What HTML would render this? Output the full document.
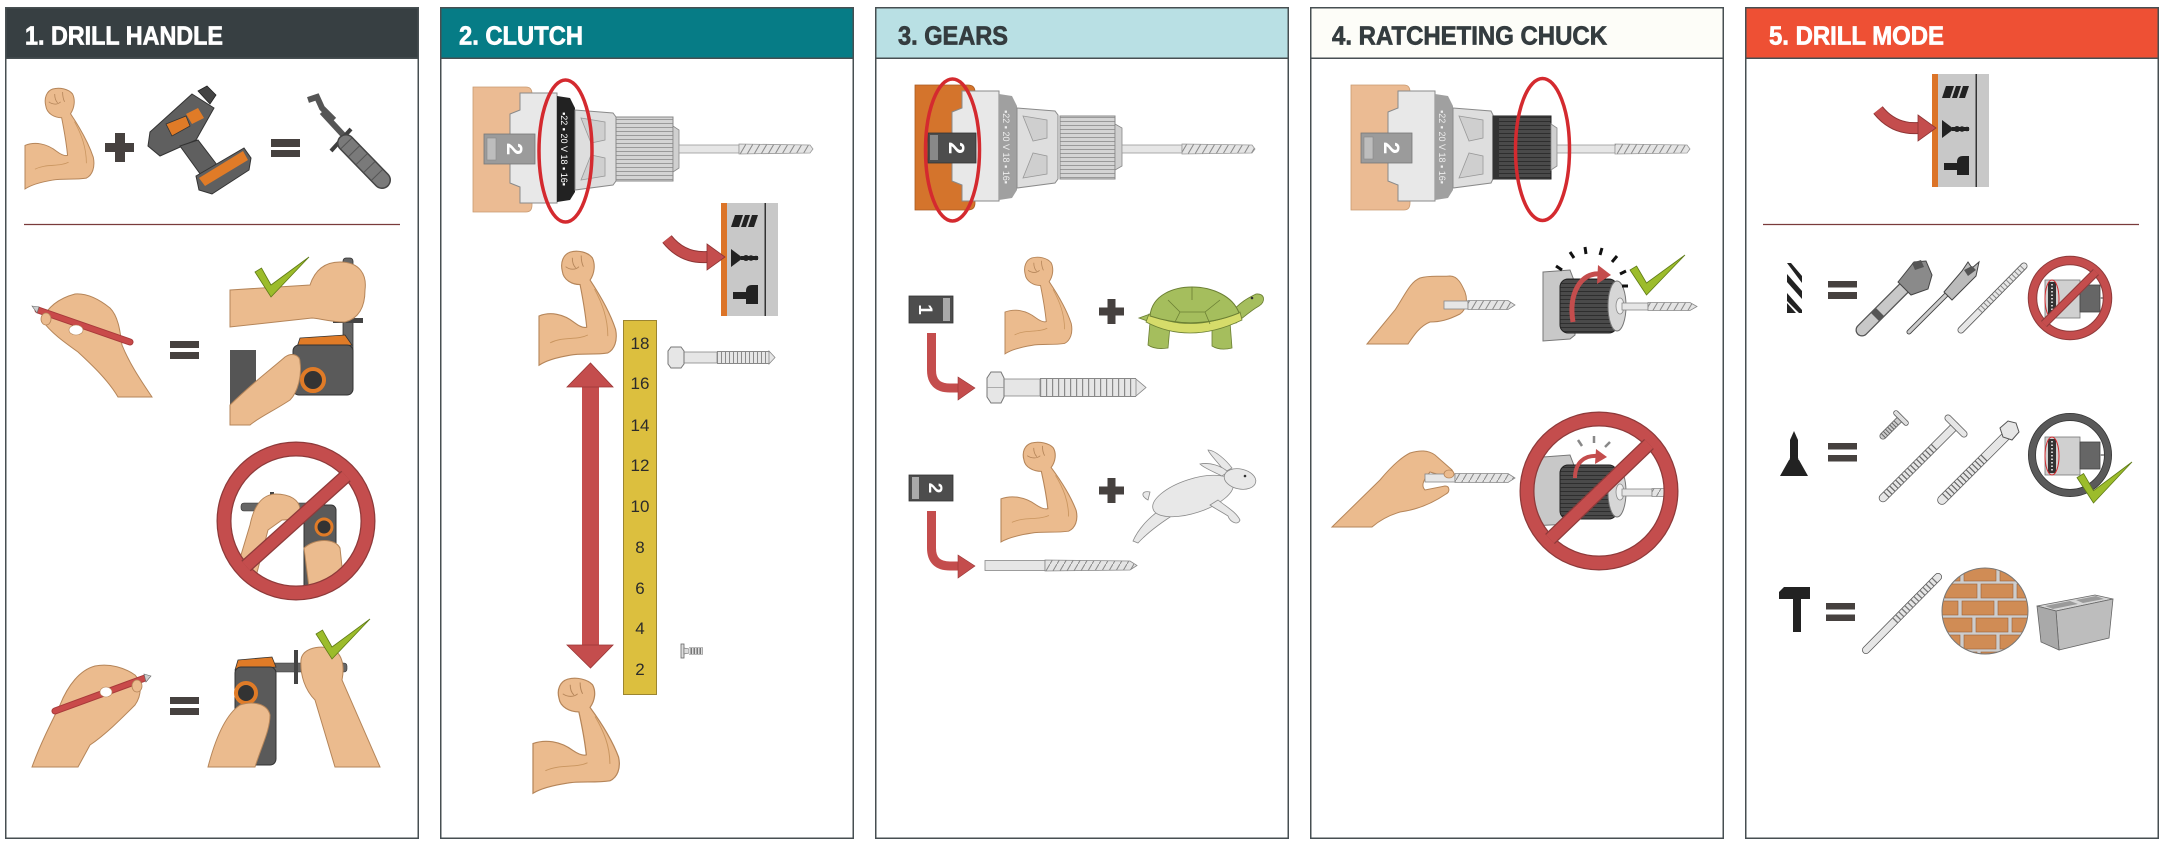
<!DOCTYPE html>
<html><head><meta charset="utf-8"><style>
html,body{margin:0;padding:0;background:#fff;}
svg{display:block;}
</style></head><body>
<svg width="2184" height="848" viewBox="0 0 2184 848" xmlns="http://www.w3.org/2000/svg" font-family="'Liberation Sans', sans-serif">
<defs>
 <path id="arm" d="M0,58 C10,54 22,56 32,64 C36,67 40,69 43,68 C42,58 40,45 37,30 C30,30 22,26 21,18 C19,10 22,3 28,1 C35,-1 44,1 48,6 C51,12 50,20 46,26 C54,38 64,55 69,70 C71,80 68,88 62,91 C50,93 38,91 28,93 C16,95 6,98 0,102 Z" fill="#ebbb8e" stroke="#b58559" stroke-width="1"/>
 <g id="armd">
  <use href="#arm"/>
  <path d="M10,82 C22,76 34,80 44,75" fill="none" stroke="#c9955f" stroke-width="0.8"/>
  <path d="M50,34 C57,47 62,60 62,76" fill="none" stroke="#c9955f" stroke-width="0.8"/>
  <path d="M24,14 C28,17 33,17 36,14 M30,6 C30,10 31,13 33,15 M38,4 C38,9 39,12 40,14" fill="none" stroke="#b58559" stroke-width="0.8"/>
 </g>
 <pattern id="ribs" patternUnits="userSpaceOnUse" width="10" height="4">
  <rect width="10" height="4" fill="#d4d4d4"/><rect y="3" width="10" height="1" fill="#9a9a9a"/>
 </pattern>
 <pattern id="ribsd" patternUnits="userSpaceOnUse" width="10" height="4">
  <rect width="10" height="4" fill="#4a4a4a"/><rect y="3" width="10" height="1" fill="#2e2e2e"/>
 </pattern>
 <pattern id="twist" patternUnits="userSpaceOnUse" width="7" height="12">
  <rect width="7" height="12" fill="#e4e4e4"/><path d="M0,12 L7,0" stroke="#888" stroke-width="1"/>
 </pattern>
 <g id="strip">
  <rect x="0" y="0" width="57" height="113" fill="#c8c8c8"/>
  <rect x="0" y="0" width="6" height="113" fill="#dc7428"/>
  <rect x="43.5" y="0" width="1.5" height="113" fill="#333"/>
  <polygon points="10,24 14,12 22,12 18,24" fill="#222"/>
  <polygon points="20,24 24,12 29,12 25,24" fill="#222"/>
  <polygon points="27,24 31,12 37,12 33,24" fill="#222"/>
  <polygon points="10,46 22,55 10,64" fill="#222"/>
  <rect x="20" y="53" width="17" height="4" fill="#222"/>
  <circle cx="25" cy="55" r="3" fill="#222"/><circle cx="30" cy="55" r="2.8" fill="#222"/><circle cx="35" cy="55" r="2.3" fill="#222"/>
  <rect x="12" y="89" width="25" height="7" fill="#222"/>
  <path d="M25,88 Q25,82 31,82 H37 V101 H25 Z" fill="#222"/>
  <path d="M-54,36 Q-38,56 -13,54" fill="none" stroke="#8e3434" stroke-width="12"/>
  <path d="M-54,36 Q-38,56 -13,54" fill="none" stroke="#c44d4d" stroke-width="10"/>
  <polygon points="-14,41 4,54 -14,67" fill="#c44d4d" stroke="#8e3434" stroke-width="0.8"/>
 </g>
 <clipPath id="c1"><circle cx="296" cy="521" r="66"/></clipPath>
 <clipPath id="c4"><circle cx="1599" cy="491" r="66"/></clipPath>
 <clipPath id="c5a"><circle cx="2070" cy="298" r="34"/></clipPath>
 <clipPath id="c5b"><circle cx="2070" cy="455" r="34"/></clipPath>
 <clipPath id="cb"><circle cx="1985" cy="611" r="43"/></clipPath>
</defs>

<!-- PANELS -->
<rect x="5.75" y="7.75" width="412.5" height="830.5" fill="#fff" stroke="#474f52" stroke-width="1.5"/>
<rect x="5.75" y="7.75" width="412.5" height="50.5" fill="#373f42" stroke="#474f52" stroke-width="1.5"/>
<text x="25" y="44.5" font-size="26" font-weight="bold" fill="#fff" stroke="#fff" stroke-width="0.7" textLength="198" lengthAdjust="spacingAndGlyphs">1. DRILL HANDLE</text>

<rect x="440.75" y="7.75" width="412.5" height="830.5" fill="#fff" stroke="#474f52" stroke-width="1.5"/>
<rect x="440.75" y="7.75" width="412.5" height="50.5" fill="#067c86" stroke="#474f52" stroke-width="1.5"/>
<text x="459" y="44.5" font-size="26" font-weight="bold" fill="#fff" stroke="#fff" stroke-width="0.7" textLength="124" lengthAdjust="spacingAndGlyphs">2. CLUTCH</text>

<rect x="875.75" y="7.75" width="412.5" height="830.5" fill="#fff" stroke="#474f52" stroke-width="1.5"/>
<rect x="875.75" y="7.75" width="412.5" height="50.5" fill="#b9e0e4" stroke="#474f52" stroke-width="1.5"/>
<text x="898" y="44.5" font-size="26" font-weight="bold" fill="#343c3f" stroke="#343c3f" stroke-width="0.7" textLength="110" lengthAdjust="spacingAndGlyphs">3. GEARS</text>

<rect x="1310.75" y="7.75" width="412.5" height="830.5" fill="#fff" stroke="#474f52" stroke-width="1.5"/>
<rect x="1310.75" y="7.75" width="412.5" height="50.5" fill="#fdfdf8" stroke="#474f52" stroke-width="1.5"/>
<text x="1332" y="44.5" font-size="26" font-weight="bold" fill="#343c3f" stroke="#343c3f" stroke-width="0.7" textLength="275" lengthAdjust="spacingAndGlyphs">4. RATCHETING CHUCK</text>

<rect x="1745.75" y="7.75" width="412.5" height="830.5" fill="#fff" stroke="#474f52" stroke-width="1.5"/>
<rect x="1745.75" y="7.75" width="412.5" height="50.5" fill="#ee5034" stroke="#474f52" stroke-width="1.5"/>
<text x="1769" y="44.5" font-size="26" font-weight="bold" fill="#fff" stroke="#fff" stroke-width="0.7" textLength="175" lengthAdjust="spacingAndGlyphs">5. DRILL MODE</text>

<!-- ============ PANEL 1 ============ -->
<use href="#armd" transform="translate(25,88) scale(0.99,0.99)"/>
<rect x="115" y="133" width="10" height="29" fill="#46413f"/>
<rect x="105" y="143" width="29" height="9" fill="#46413f"/>
<!-- drill -->
<polygon points="192,94 214,108 196,140 160,156 148,146 150,132" fill="#5f5f5f" stroke="#333" stroke-width="1"/>
<polygon points="198,91 207,86 216,95 210,104" fill="#444" stroke="#222" stroke-width="0.8"/>
<polygon points="166,124 186,116 190,126 172,136" fill="#e07b27" stroke="#333" stroke-width="0.8"/>
<polygon points="186,114 198,108 204,118 192,124" fill="#e07b27"/>
<polygon points="180,146 198,140 224,174 206,182" fill="#5f5f5f" stroke="#333" stroke-width="1"/>
<polygon points="196,176 244,148 251,158 249,170 212,194 199,190" fill="#5f5f5f" stroke="#333" stroke-width="1"/>
<polygon points="199,178 243,151 248,160 205,186" fill="#e07b27"/>
<rect x="271" y="139" width="29" height="8" fill="#46413f"/>
<rect x="271" y="150" width="29" height="7" fill="#46413f"/>
<!-- side handle -->
<path d="M308,100 L317,97 L322,108 L334,120" fill="none" stroke="#555" stroke-width="6"/>
<line x1="322" y1="112" x2="346" y2="138" stroke="#555" stroke-width="6"/>
<line x1="331" y1="151" x2="351" y2="129" stroke="#3e3e3e" stroke-width="4"/>
<line x1="346" y1="143" x2="382" y2="180" stroke="#444" stroke-width="18" stroke-linecap="round"/>
<line x1="346" y1="143" x2="382" y2="180" stroke="#7a7a7a" stroke-width="15" stroke-linecap="round"/>
<line x1="346" y1="143" x2="382" y2="180" stroke="#555" stroke-width="15" stroke-dasharray="1 10"/>
<!-- divider -->
<line x1="24" y1="224.5" x2="400" y2="224.5" stroke="#7a3b3b" stroke-width="1.2"/>
<!-- hand pencil row2 -->
<path d="M42,320 C48,306 60,298 75,294 C88,293 100,300 110,308 C118,316 120,330 122,345 C130,365 142,382 152,397 L118,397 C108,380 92,365 78,352 C64,342 50,332 42,320 Z" fill="#ebbb8e" stroke="#b58559" stroke-width="1"/>
<line x1="38" y1="310" x2="130" y2="342" stroke="#a83a3a" stroke-width="7" stroke-linecap="round"/>
<line x1="38" y1="310" x2="130" y2="342" stroke="#c94a4a" stroke-width="5" stroke-linecap="round"/>
<polygon points="32,306 39,307 37,313" fill="#ccc" stroke="#666" stroke-width="0.6"/>
<ellipse cx="46" cy="319" rx="5" ry="6" fill="#ebbb8e" stroke="#b58559" stroke-width="0.8"/>
<ellipse cx="76" cy="330" rx="7" ry="5" fill="#fff" stroke="#b58559" stroke-width="0.6"/>
<rect x="170" y="341" width="29" height="7" fill="#46413f"/>
<rect x="170" y="352" width="29" height="7" fill="#46413f"/>
<!-- right image row2 -->
<rect x="230" y="350" width="26" height="60" fill="#555"/>
<rect x="343" y="258" width="10" height="115" rx="3" fill="#666" stroke="#333" stroke-width="0.8"/>
<rect x="333" y="318" width="30" height="5" fill="#444"/>
<path d="M230,290 L310,285 C315,270 325,262 340,262 C360,262 367,275 365,290 C365,305 360,318 345,322 C330,322 318,318 312,318 L230,327 Z" fill="#ebbb8e" stroke="#b58559" stroke-width="1"/>
<polygon points="300,338 345,335 352,345 296,350" fill="#e07b27" stroke="#333" stroke-width="0.8"/>
<rect x="293" y="345" width="60" height="50" rx="6" fill="#5a5a5a" stroke="#333" stroke-width="1"/>
<circle cx="313" cy="380" r="11" fill="#333" stroke="#e07b27" stroke-width="4"/>
<path d="M230,425 L230,405 C250,385 270,370 285,357 C292,352 300,355 300,362 C302,375 298,392 290,400 C275,410 258,418 250,425 Z" fill="#ebbb8e" stroke="#b58559" stroke-width="1"/>
<polygon points="255,272 271,297 309,257 271,285 261.5,268" fill="#9cbc2b" stroke="#5e7a16" stroke-width="0.8"/>
<!-- no-sign panel1 -->
<g clip-path="url(#c1)">
 <rect x="304" y="505" width="32" height="90" rx="5" fill="#5a5a5a" stroke="#333" stroke-width="1"/>
 <circle cx="324" cy="527" r="8" fill="#333" stroke="#e07b27" stroke-width="3"/>
 <rect x="241" y="503" width="69" height="8" rx="3" fill="#666" stroke="#333" stroke-width="0.6"/>
 <rect x="270" y="492" width="4" height="30" fill="#444"/>
 <path d="M232,585 L250,525 C254,505 262,495 275,494 C290,494 300,500 300,510 C300,518 290,520 282,520 L268,530 L252,592 Z" fill="#ebbb8e" stroke="#b58559" stroke-width="1"/>
 <path d="M304,548 C315,538 335,538 340,548 L345,595 L310,595 Z" fill="#ebbb8e" stroke="#b58559" stroke-width="1"/>
</g>
<circle cx="296" cy="521" r="72" fill="none" stroke="#8e3a3a" stroke-width="15"/>
<circle cx="296" cy="521" r="72" fill="none" stroke="#c44d4d" stroke-width="12.5"/>
<line x1="346" y1="476" x2="246" y2="566" stroke="#8e3a3a" stroke-width="14"/>
<line x1="346" y1="476" x2="246" y2="566" stroke="#c44d4d" stroke-width="11.5"/>
<!-- row3 -->
<path d="M32,767 C40,745 50,725 60,705 C68,685 80,670 95,666 C110,663 125,668 135,675 C142,682 142,695 135,705 C120,720 105,735 90,745 L78,767 Z" fill="#ebbb8e" stroke="#b58559" stroke-width="1"/>
<line x1="55" y1="711" x2="145" y2="678" stroke="#a83a3a" stroke-width="7" stroke-linecap="round"/>
<line x1="55" y1="711" x2="145" y2="678" stroke="#c94a4a" stroke-width="5" stroke-linecap="round"/>
<polygon points="144,674 151,676 146,682" fill="#ccc" stroke="#666" stroke-width="0.6"/>
<ellipse cx="137" cy="686" rx="5" ry="6" fill="#ebbb8e" stroke="#b58559" stroke-width="0.8"/>
<ellipse cx="106" cy="692" rx="6" ry="5" fill="#fff" stroke="#b58559" stroke-width="0.6"/>
<rect x="170" y="697" width="29" height="7" fill="#46413f"/>
<rect x="170" y="708" width="29" height="7" fill="#46413f"/>
<rect x="270" y="663" width="77" height="9" rx="3" fill="#666" stroke="#333" stroke-width="0.6"/>
<rect x="294" y="650" width="4" height="34" fill="#444"/>
<polygon points="238,660 272,657 276,667 235,670" fill="#e07b27" stroke="#333" stroke-width="0.8"/>
<rect x="235" y="667" width="41" height="98" rx="6" fill="#5a5a5a" stroke="#333" stroke-width="1"/>
<circle cx="246" cy="693" r="10" fill="#333" stroke="#e07b27" stroke-width="4"/>
<path d="M301,660 C302,650 315,645 330,648 C342,652 345,665 342,680 L380,767 L335,767 L315,700 C305,690 300,675 301,660 Z" fill="#ebbb8e" stroke="#b58559" stroke-width="1"/>
<path d="M208,767 C215,740 225,715 240,705 C255,700 268,705 270,715 C270,730 262,745 255,767 Z" fill="#ebbb8e" stroke="#b58559" stroke-width="1"/>
<polygon points="316,634 332,659 370,619 332,647 322.5,630" fill="#9cbc2b" stroke="#5e7a16" stroke-width="0.8"/>

<!-- ============ PANEL 2 ============ -->
<g transform="translate(473,0)">
 <path d="M0,87 H53 Q59,87 59,94 V205 Q59,212 53,212 H0 Z" fill="#ebbb93" stroke="#c99a70" stroke-width="0.8"/>
 <path d="M47,93 H84 V203 H47 V187 L37,183 V114 L47,110 Z" fill="#e8e8e8" stroke="#8a8a8a" stroke-width="1"/>
 <rect x="11" y="134" width="51" height="30" fill="#9b9b9b" stroke="#777" stroke-width="0.8"/>
 <rect x="14" y="138" width="9" height="22" fill="#bdbdbd" stroke="#888" stroke-width="0.6"/>
 <text transform="translate(42,149) rotate(90)" font-size="22" font-weight="bold" fill="#fff" text-anchor="middle" y="8">2</text>
 <path d="M84,96 L97,98 L102,108 V192 L97,200 L84,202 Z" fill="#222"/>
 <text transform="translate(91,149) rotate(90)" font-size="9" fill="#fff" text-anchor="middle" y="3">▪22 ▪ 20 V 18 ▪ 16▪</text>
 <path d="M102,110 L140,113 L143,117 V181 L140,185 L102,190 Z" fill="#dedede" stroke="#8a8a8a" stroke-width="1"/>
 <path d="M108,118 L132,122 L132,140 L118,143 Z M108,180 L132,176 L132,158 L118,155 Z" fill="#cfcfcf" stroke="#999" stroke-width="0.8"/>
 <rect x="143" y="117" width="57" height="64" fill="url(#ribs)" stroke="#888" stroke-width="1"/>
 <path d="M200,126 L206,130 V168 L200,172 Z" fill="#d0d0d0" stroke="#888" stroke-width="0.8"/>
 <rect x="206" y="145" width="60" height="8" fill="#e6e6e6" stroke="#999" stroke-width="0.8"/>
 <path d="M266,144 L337,145 L340,149 L337,153 L266,154 Z" fill="url(#twist)" stroke="#999" stroke-width="0.8"/>
</g>
<ellipse cx="565.5" cy="151" rx="26.5" ry="71" fill="none" stroke="#d42a2f" stroke-width="3.5"/>
<use href="#strip" transform="translate(721,203)"/>
<use href="#armd" transform="translate(539,251) scale(1.11,1.12)"/>
<rect x="623.5" y="320.5" width="33" height="374" fill="#dcbf3e" stroke="#9c8530" stroke-width="1"/>
<g font-size="17" fill="#2b2b2b" text-anchor="middle">
 <text x="640" y="349">18</text><text x="640" y="389">16</text><text x="640" y="431">14</text>
 <text x="640" y="471">12</text><text x="640" y="512">10</text><text x="640" y="553">8</text>
 <text x="640" y="594">6</text><text x="640" y="634">4</text><text x="640" y="675">2</text>
</g>
<rect x="582" y="386" width="17" height="260" fill="#c44d4d"/>
<polygon points="567,387 590.5,363 613,387" fill="#c44d4d" stroke="#9a3535" stroke-width="0.8"/>
<polygon points="567,645 590.5,668 613,645" fill="#c44d4d" stroke="#9a3535" stroke-width="0.8"/>
<!-- bolt p2 -->
<rect x="683" y="352" width="34" height="11" fill="#e6e6e6" stroke="#888" stroke-width="0.8"/>
<line x1="717" y1="357.5" x2="769" y2="357.5" stroke="#888" stroke-width="13"/>
<line x1="717" y1="357.5" x2="769" y2="357.5" stroke="#e6e6e6" stroke-width="11"/>
<line x1="717" y1="357.5" x2="769" y2="357.5" stroke="#8a8a8a" stroke-width="12" stroke-dasharray="1 3"/>
<polygon points="769,351 775,357.5 769,364" fill="#e6e6e6" stroke="#888" stroke-width="0.8"/>
<polygon points="671,347 681,347 684,351 684,364 681,368 671,368 668,364 668,351" fill="#e6e6e6" stroke="#777" stroke-width="1"/>
<!-- small screw -->
<rect x="681" y="644" width="3" height="14" fill="#ddd" stroke="#666" stroke-width="0.8"/>
<polygon points="684,648 684,654 689,653 689,649" fill="#ddd" stroke="#666" stroke-width="0.6"/>
<line x1="689" y1="651" x2="703" y2="651" stroke="#777" stroke-width="7"/>
<line x1="689" y1="651" x2="703" y2="651" stroke="#ddd" stroke-width="6" stroke-dasharray="1.5 1.5"/>
<use href="#armd" transform="translate(533,678) scale(1.24,1.13)"/>

<!-- ============ PANEL 3 ============ -->
<g transform="translate(915,-2)">
 <path d="M0,87 H53 Q60,87 60,94 V205 Q60,212 53,212 H0 Z" fill="#d4742c" stroke="#a85a20" stroke-width="0.8"/>
 <path d="M47,93 H84 V203 H47 V187 L37,183 V114 L47,110 Z" fill="#e8e8e8" stroke="#8a8a8a" stroke-width="1"/>
 <rect x="13" y="135" width="48" height="30" fill="#4d4d4d" stroke="#333" stroke-width="0.8"/>
 <rect x="15" y="137" width="8" height="25" fill="#888"/>
 <text transform="translate(42,150) rotate(90)" font-size="22" font-weight="bold" fill="#fff" text-anchor="middle" y="8">2</text>
 <path d="M84,96 L97,98 L102,108 V192 L97,200 L84,202 Z" fill="#a0a0a0"/>
 <text transform="translate(91,149) rotate(90)" font-size="9" fill="#eee" text-anchor="middle" y="3">▪22 ▪ 20 V 18 ▪ 16▪</text>
 <path d="M102,110 L140,113 L143,117 V181 L140,185 L102,190 Z" fill="#dedede" stroke="#8a8a8a" stroke-width="1"/>
 <path d="M108,118 L132,122 L132,140 L118,143 Z M108,180 L132,176 L132,158 L118,155 Z" fill="#cfcfcf" stroke="#999" stroke-width="0.8"/>
 <rect x="145" y="118" width="55" height="63" fill="url(#ribs)" stroke="#888" stroke-width="1"/>
 <path d="M200,126 L207,130 V168 L200,172 Z" fill="#d0d0d0" stroke="#888" stroke-width="0.8"/>
 <rect x="207" y="147" width="60" height="8" fill="#e6e6e6" stroke="#999" stroke-width="0.8"/>
 <path d="M267,146 L337,147 L340,151 L337,155 L267,156 Z" fill="url(#twist)" stroke="#999" stroke-width="0.8"/>
</g>
<ellipse cx="952.5" cy="150" rx="27" ry="71" fill="none" stroke="#d42a2f" stroke-width="3.5"/>
<!-- gear 1 -->
<rect x="909" y="296" width="44" height="27" fill="#4d4d4d" stroke="#333" stroke-width="0.8"/>
<rect x="943" y="298" width="7" height="23" fill="#aaa"/>
<text transform="translate(926,309.5) rotate(90)" font-size="19" font-weight="bold" fill="#fff" text-anchor="middle" y="7">1</text>
<path d="M931.5,333 V370 Q931.5,388 950,388 H959" fill="none" stroke="#c44d4d" stroke-width="9"/>
<polygon points="958,377 975,388 958,400" fill="#c44d4d" stroke="#9a3535" stroke-width="0.6"/>
<use href="#armd" transform="translate(1005,257) scale(0.96,0.95)"/>
<rect x="1107.5" y="299" width="8" height="25" fill="#46413f"/>
<rect x="1099" y="307.5" width="25" height="8" fill="#46413f"/>
<!-- turtle -->
<polygon points="1139,318 1153,313 1153,323" fill="#a5be5d" stroke="#6b7f33" stroke-width="0.8"/>
<path d="M1150,322 L1148,345 Q1155,350 1168,348 L1170,326 Z" fill="#a5be5d" stroke="#6b7f33" stroke-width="0.8"/>
<path d="M1212,324 L1212,346 Q1220,351 1232,348 L1230,322 Z" fill="#a5be5d" stroke="#6b7f33" stroke-width="0.8"/>
<path d="M1230,314 C1240,302 1248,298 1256,294 C1265,293 1266,302 1259,306 C1250,311 1243,318 1236,323 Z" fill="#a5be5d" stroke="#6b7f33" stroke-width="0.8"/>
<path d="M1146,322 Q1190,345 1242,320 L1240,312 Q1190,334 1149,314 Z" fill="#d6dc6a" stroke="#6b7f33" stroke-width="0.8"/>
<path d="M1150,316 C1152,294 1175,287 1192,287 C1212,287 1233,296 1239,313 Q1195,331 1150,316 Z" fill="#a5be5d" stroke="#6b7f33" stroke-width="1"/>
<path d="M1168,300 L1180,312 L1205,312 L1220,300 M1180,312 L1175,322 M1205,312 L1210,324 M1192,287 L1192,300" fill="none" stroke="#6b7f33" stroke-width="0.8"/>
<circle cx="1252" cy="298" r="1.3" fill="#333"/>
<!-- bolt p3 -->
<rect x="1003" y="379" width="37" height="17" fill="#e6e6e6" stroke="#888" stroke-width="0.8"/>
<line x1="1040" y1="387.5" x2="1136" y2="387.5" stroke="#888" stroke-width="19"/>
<line x1="1040" y1="387.5" x2="1136" y2="387.5" stroke="#e6e6e6" stroke-width="17"/>
<line x1="1040" y1="387.5" x2="1136" y2="387.5" stroke="#8a8a8a" stroke-width="18" stroke-dasharray="1.2 4.8"/>
<polygon points="1136,379 1146,387.5 1136,396" fill="#e6e6e6" stroke="#888" stroke-width="0.8"/>
<polygon points="991,372 1001,372 1004,378 1004,397 1001,403 991,403 987,397 987,378" fill="#e6e6e6" stroke="#777" stroke-width="1"/>
<line x1="987" y1="387.5" x2="1004" y2="387.5" stroke="#999" stroke-width="0.8"/>
<!-- gear 2 -->
<rect x="909" y="475" width="44" height="26" fill="#4d4d4d" stroke="#333" stroke-width="0.8"/>
<rect x="912" y="477" width="7" height="22" fill="#aaa"/>
<text transform="translate(936,488) rotate(90)" font-size="19" font-weight="bold" fill="#fff" text-anchor="middle" y="7">2</text>
<path d="M931.5,511 V548 Q931.5,566 950,566 H959" fill="none" stroke="#c44d4d" stroke-width="9"/>
<polygon points="958,555 975,566 958,578" fill="#c44d4d" stroke="#9a3535" stroke-width="0.6"/>
<use href="#armd" transform="translate(1001,442) scale(1.09,0.98)"/>
<rect x="1107.5" y="478" width="8" height="25" fill="#46413f"/>
<rect x="1099" y="486.5" width="25" height="8" fill="#46413f"/>
<!-- rabbit -->
<path d="M1133,541 C1140,525 1155,512 1168,505 L1178,512 C1165,520 1150,530 1138,543 Z" fill="#e8e8e8" stroke="#8a8a8a" stroke-width="0.8"/>
<path d="M1148,500 C1140,496 1142,490 1150,492 Z" fill="#e8e8e8" stroke="#8a8a8a" stroke-width="0.8"/>
<ellipse cx="1193" cy="496" rx="42" ry="17" transform="rotate(-18 1193 496)" fill="#e8e8e8" stroke="#8a8a8a" stroke-width="0.8"/>
<path d="M1218,500 C1228,508 1236,512 1240,520 C1238,526 1230,522 1228,516 C1222,512 1214,508 1210,505 Z" fill="#e8e8e8" stroke="#8a8a8a" stroke-width="0.8"/>
<path d="M1225,472 C1218,462 1210,455 1208,450 C1215,450 1226,460 1232,468 Z" fill="#e8e8e8" stroke="#8a8a8a" stroke-width="0.8"/>
<path d="M1222,476 C1214,472 1204,468 1200,464 C1210,462 1222,466 1228,472 Z" fill="#e8e8e8" stroke="#8a8a8a" stroke-width="0.8"/>
<ellipse cx="1240" cy="479" rx="16" ry="10" transform="rotate(12 1240 479)" fill="#e8e8e8" stroke="#8a8a8a" stroke-width="0.8"/>
<circle cx="1245" cy="476" r="1.3" fill="#333"/>
<!-- drill bit p3 -->
<rect x="985" y="560.5" width="60" height="10" fill="#e6e6e6" stroke="#888" stroke-width="0.8"/>
<path d="M1045,560 L1130,561 L1137,565.5 L1130,570 L1045,571 Z" fill="url(#twist)" stroke="#888" stroke-width="0.8"/>

<!-- ============ PANEL 4 ============ -->
<g transform="translate(1351,-2)">
 <path d="M0,87 H53 Q59,87 59,94 V205 Q59,212 53,212 H0 Z" fill="#ebbb93" stroke="#c99a70" stroke-width="0.8"/>
 <path d="M47,93 H84 V203 H47 V187 L37,183 V114 L47,110 Z" fill="#e8e8e8" stroke="#8a8a8a" stroke-width="1"/>
 <rect x="10" y="135" width="51" height="30" fill="#9b9b9b" stroke="#777" stroke-width="0.8"/>
 <rect x="13" y="139" width="9" height="22" fill="#bdbdbd" stroke="#888" stroke-width="0.6"/>
 <text transform="translate(41,150) rotate(90)" font-size="22" font-weight="bold" fill="#fff" text-anchor="middle" y="8">2</text>
 <path d="M84,96 L97,98 L102,108 V192 L97,200 L84,202 Z" fill="#a0a0a0"/>
 <text transform="translate(91,149) rotate(90)" font-size="9" fill="#eee" text-anchor="middle" y="3">▪22 ▪ 20 V 18 ▪ 16▪</text>
 <path d="M102,110 L140,113 L142,117 V181 L140,185 L102,190 Z" fill="#dedede" stroke="#8a8a8a" stroke-width="1"/>
 <path d="M108,118 L132,122 L132,140 L118,143 Z M108,180 L132,176 L132,158 L118,155 Z" fill="#cfcfcf" stroke="#999" stroke-width="0.8"/>
 <rect x="142" y="118" width="58" height="63" fill="url(#ribsd)" stroke="#222" stroke-width="1"/>
 <rect x="142" y="118" width="6" height="63" fill="#333"/>
 <path d="M200,126 L206,130 V168 L200,172 Z" fill="#d0d0d0" stroke="#888" stroke-width="0.8"/>
 <rect x="206" y="147" width="58" height="8" fill="#e6e6e6" stroke="#999" stroke-width="0.8"/>
 <path d="M264,146 L336,147 L339,151 L336,155 L264,156 Z" fill="url(#twist)" stroke="#999" stroke-width="0.8"/>
</g>
<ellipse cx="1542.5" cy="149.5" rx="27" ry="71" fill="none" stroke="#d42a2f" stroke-width="3.5"/>
<!-- top hand -->
<path d="M1367,344 L1395,310 C1405,295 1410,282 1420,278 C1430,275 1440,277 1450,276 C1458,276 1462,285 1465,292 C1468,300 1466,310 1460,314 C1448,320 1440,322 1430,322 C1420,326 1414,335 1408,344 Z" fill="#ebbb8e" stroke="#b58559" stroke-width="1"/>
<rect x="1444" y="301" width="24" height="8" fill="#e6e6e6" stroke="#888" stroke-width="0.8"/>
<path d="M1468,300.5 L1508,300.5 L1515,305 L1508,309.5 L1468,309.5 Z" fill="url(#twist)" stroke="#888" stroke-width="0.8"/>
<!-- chuck with check -->
<path d="M1543,272 L1570,270 L1575,283 V335 L1570,339 L1543,341 Z" fill="#c8c8c8" stroke="#777" stroke-width="1"/>
<rect x="1560" y="279" width="57" height="54" rx="8" fill="url(#ribsd)" stroke="#222" stroke-width="1"/>
<ellipse cx="1617" cy="306" rx="9" ry="25" fill="#d6d6d6" stroke="#777" stroke-width="1"/>
<ellipse cx="1620" cy="306" rx="4" ry="8" fill="#eee" stroke="#888" stroke-width="0.8"/>
<rect x="1622" y="303" width="26" height="7" fill="#e6e6e6" stroke="#888" stroke-width="0.8"/>
<path d="M1648,302.5 L1690,302.5 L1697,306.5 L1690,310.5 L1648,310.5 Z" fill="url(#twist)" stroke="#888" stroke-width="0.8"/>
<path d="M1573,322 C1568,292 1582,272 1600,274" fill="none" stroke="#c44d4d" stroke-width="5"/>
<polygon points="1598,265 1611,275 1597,284" fill="#c44d4d"/>
<g stroke="#111" stroke-width="3">
 <line x1="1562" y1="270" x2="1556" y2="266"/><line x1="1574" y1="258" x2="1570" y2="252"/>
 <line x1="1586" y1="254" x2="1585" y2="247"/><line x1="1600" y1="255" x2="1602" y2="248"/>
 <line x1="1612" y1="262" x2="1617" y2="256"/><line x1="1620" y1="274" x2="1626" y2="271"/>
 <line x1="1622" y1="286" x2="1628" y2="286"/>
</g>
<polygon points="1630,270 1646.5,295 1685,255 1646.5,283 1636.6,266" fill="#9cbc2b" stroke="#5e7a16" stroke-width="0.8"/>
<!-- bottom hand -->
<path d="M1332,527 L1380,480 C1390,468 1400,458 1410,453 C1420,450 1428,450 1435,455 L1452,470 C1455,474 1452,478 1446,477 L1430,472 C1425,478 1420,485 1425,490 L1445,486 C1450,486 1450,492 1446,494 C1430,505 1415,510 1400,512 C1390,515 1380,520 1372,527 Z" fill="#ebbb8e" stroke="#b58559" stroke-width="1"/>
<rect x="1425" y="474" width="30" height="8" fill="#e6e6e6" stroke="#888" stroke-width="0.8"/>
<path d="M1455,473.5 L1508,473.5 L1515,478 L1508,482.5 L1455,482.5 Z" fill="url(#twist)" stroke="#888" stroke-width="0.8"/>
<ellipse cx="1449" cy="474" rx="5" ry="4" fill="#ebbb8e" stroke="#b58559" stroke-width="0.8"/>
<!-- no-sign p4 -->
<g clip-path="url(#c4)">
 <path d="M1530,458 L1570,455 L1575,468 V520 L1570,524 L1530,526 Z" fill="#c8c8c8" stroke="#777" stroke-width="1"/>
 <rect x="1560" y="465" width="57" height="54" rx="8" fill="url(#ribsd)" stroke="#222" stroke-width="1"/>
 <ellipse cx="1617" cy="492" rx="9" ry="25" fill="#d6d6d6" stroke="#777" stroke-width="1"/>
 <ellipse cx="1620" cy="492" rx="4" ry="8" fill="#eee" stroke="#888" stroke-width="0.8"/>
 <rect x="1622" y="489" width="30" height="7" fill="#e6e6e6" stroke="#888" stroke-width="0.8"/>
 <path d="M1652,488.5 L1690,488.5 L1697,492.5 L1690,496.5 L1652,496.5 Z" fill="url(#twist)" stroke="#888" stroke-width="0.8"/>
 <path d="M1575,478 C1575,462 1585,455 1598,456" fill="none" stroke="#c44d4d" stroke-width="4"/>
 <polygon points="1596,449 1607,457 1595,464" fill="#c44d4d"/>
 <g stroke="#888" stroke-width="2.5"><line x1="1582" y1="446" x2="1578" y2="440"/><line x1="1594" y1="443" x2="1594" y2="436"/><line x1="1605" y1="447" x2="1610" y2="442"/></g>
</g>
<circle cx="1599" cy="491" r="72" fill="none" stroke="#8e3a3a" stroke-width="15"/>
<circle cx="1599" cy="491" r="72" fill="none" stroke="#c44d4d" stroke-width="12.5"/>
<line x1="1649" y1="444" x2="1550" y2="539" stroke="#8e3a3a" stroke-width="14"/>
<line x1="1649" y1="444" x2="1550" y2="539" stroke="#c44d4d" stroke-width="11.5"/>

<!-- ============ PANEL 5 ============ -->
<use href="#strip" transform="translate(1932,74)"/>
<line x1="1763" y1="224.5" x2="2139" y2="224.5" stroke="#7a3b3b" stroke-width="1.2"/>
<!-- row1 icon: drill stripes -->
<g fill="#222">
 <polygon points="1787,263 1791,263 1802,276 1802,283"/>
 <polygon points="1787,274 1787,282 1802,299 1802,291"/>
 <polygon points="1787,293 1787,301 1799,313 1802,313 1802,310"/>
 <polygon points="1787,303 1787,313 1796,313"/>
</g>
<rect x="1828" y="281" width="29" height="6.5" fill="#46413f"/>
<rect x="1828" y="292" width="29" height="7" fill="#46413f"/>
<!-- forstner -->
<line x1="1862" y1="330" x2="1907" y2="285" stroke="#555" stroke-width="13" stroke-linecap="round"/>
<line x1="1862" y1="330" x2="1907" y2="285" stroke="#c8c8c8" stroke-width="10.5" stroke-linecap="round"/>
<line x1="1875" y1="317" x2="1880" y2="312" stroke="#555" stroke-width="12"/>
<polygon points="1898,282 1914,262 1926,261 1932,275 1928,289 1911,295" fill="#8a8a8a" stroke="#444" stroke-width="1"/>
<polygon points="1912,263 1921,260 1924,267 1915,270" fill="#555"/>
<!-- spade -->
<line x1="1909" y1="332" x2="1950" y2="291" stroke="#444" stroke-width="5" stroke-linecap="round"/>
<line x1="1909" y1="332" x2="1950" y2="291" stroke="#ccc" stroke-width="3.2" stroke-linecap="round"/>
<polygon points="1944,292 1962,271 1968,262 1972,268 1979,262 1976,276 1960,292 1952,300" fill="#bbb" stroke="#444" stroke-width="1"/>
<polygon points="1964,270 1972,266 1976,270 1968,276" fill="#555"/>
<!-- twist -->
<line x1="1961" y1="330" x2="2024" y2="266" stroke="#555" stroke-width="7" stroke-linecap="round"/>
<line x1="1961" y1="330" x2="2024" y2="266" stroke="#e6e6e6" stroke-width="5.5" stroke-linecap="round"/>
<line x1="1980" y1="311" x2="2024" y2="266" stroke="#888" stroke-width="5.5" stroke-dasharray="1 3"/>
<!-- no-sign small -->
<g clip-path="url(#c5a)">
 <rect x="2045" y="280" width="35" height="38" fill="#d0d0d0" stroke="#777" stroke-width="0.8"/>
 <rect x="2048" y="282" width="8" height="34" fill="#333"/>
 <line x1="2052" y1="284" x2="2052" y2="314" stroke="#fff" stroke-width="1.5" stroke-dasharray="1.5 2"/>
 <ellipse cx="2052" cy="299" rx="7" ry="19" fill="none" stroke="#d42a2f" stroke-width="1"/>
 <rect x="2080" y="285" width="20" height="27" fill="#666" stroke="#444" stroke-width="0.8"/>
 <line x1="2100" y1="298" x2="2112" y2="298" stroke="#999" stroke-width="2"/>
</g>
<circle cx="2070" cy="298" r="37.5" fill="none" stroke="#8e3a3a" stroke-width="9.5"/>
<circle cx="2070" cy="298" r="37.5" fill="none" stroke="#c44d4d" stroke-width="7.5"/>
<line x1="2096" y1="272" x2="2044" y2="324" stroke="#8e3a3a" stroke-width="8.5"/>
<line x1="2096" y1="272" x2="2044" y2="324" stroke="#c44d4d" stroke-width="6.5"/>
<!-- row2 icon: screw -->
<polygon points="1780,476 1808,476 1799,460 1789,460" fill="#222"/>
<polygon points="1790,465 1798,465 1798,440 1794,431 1790,440" fill="#222"/>
<circle cx="1794" cy="444" r="3.5" fill="#222"/><circle cx="1794" cy="452" r="4" fill="#222"/><circle cx="1794" cy="460" r="4.5" fill="#222"/>
<rect x="1828" y="443" width="29" height="6.5" fill="#46413f"/>
<rect x="1828" y="455" width="29" height="6.5" fill="#46413f"/>
<!-- small screw -->
<line x1="1883" y1="436" x2="1899" y2="420" stroke="#555" stroke-width="7" stroke-linecap="round"/>
<line x1="1883" y1="436" x2="1899" y2="420" stroke="#ccc" stroke-width="5.5" stroke-linecap="round"/>
<line x1="1883" y1="436" x2="1897" y2="422" stroke="#666" stroke-width="6" stroke-dasharray="1 2"/>
<line x1="1896" y1="413" x2="1906" y2="423" stroke="#555" stroke-width="5.5" stroke-linecap="round"/>
<line x1="1896" y1="413" x2="1906" y2="423" stroke="#ddd" stroke-width="4" stroke-linecap="round"/>
<!-- long screw -->
<line x1="1883" y1="498" x2="1955" y2="426" stroke="#555" stroke-width="8.5" stroke-linecap="round"/>
<line x1="1883" y1="498" x2="1955" y2="426" stroke="#e6e6e6" stroke-width="7" stroke-linecap="round"/>
<line x1="1886" y1="495" x2="1936" y2="445" stroke="#666" stroke-width="8" stroke-dasharray="1.2 3"/>
<line x1="1948" y1="418" x2="1964" y2="434" stroke="#555" stroke-width="7" stroke-linecap="round"/>
<line x1="1948" y1="418" x2="1964" y2="434" stroke="#e6e6e6" stroke-width="5.5" stroke-linecap="round"/>
<!-- hex bolt -->
<line x1="1942" y1="500" x2="2006" y2="436" stroke="#555" stroke-width="9.5" stroke-linecap="round"/>
<line x1="1942" y1="500" x2="2006" y2="436" stroke="#e6e6e6" stroke-width="8" stroke-linecap="round"/>
<line x1="1945" y1="497" x2="1985" y2="457" stroke="#666" stroke-width="9" stroke-dasharray="1.2 3"/>
<polygon points="2000,428 2008,421 2016,423 2019,432 2012,440 2003,437" fill="#e6e6e6" stroke="#555" stroke-width="1"/>
<!-- ok circle -->
<g clip-path="url(#c5b)">
 <rect x="2045" y="437" width="35" height="38" fill="#d0d0d0" stroke="#777" stroke-width="0.8"/>
 <rect x="2048" y="439" width="8" height="34" fill="#333"/>
 <line x1="2052" y1="441" x2="2052" y2="471" stroke="#fff" stroke-width="1.5" stroke-dasharray="1.5 2"/>
 <ellipse cx="2052" cy="456" rx="7" ry="19" fill="none" stroke="#d42a2f" stroke-width="1"/>
 <rect x="2080" y="442" width="20" height="27" fill="#666" stroke="#444" stroke-width="0.8"/>
 <line x1="2100" y1="455" x2="2112" y2="455" stroke="#999" stroke-width="2"/>
</g>
<circle cx="2070" cy="455" r="38" fill="none" stroke="#333" stroke-width="8"/>
<circle cx="2070" cy="455" r="38" fill="none" stroke="#5a5a5a" stroke-width="6.5"/>
<polygon points="2077,477.6 2093.5,503 2132,462 2093.5,490.7 2083.6,473.5" fill="#9cbc2b" stroke="#5e7a16" stroke-width="0.8"/>
<!-- row3 icon: hammer -->
<path d="M1779,592 L1784,587 H1810 V599 H1779 Z" fill="#222"/>
<rect x="1793" y="599" width="8" height="33" fill="#222"/>
<rect x="1826" y="603" width="29" height="6.5" fill="#46413f"/>
<rect x="1826" y="614.5" width="29" height="6.5" fill="#46413f"/>
<!-- masonry bit -->
<line x1="1866" y1="650" x2="1938" y2="577" stroke="#555" stroke-width="8" stroke-linecap="round"/>
<line x1="1866" y1="650" x2="1938" y2="577" stroke="#e6e6e6" stroke-width="6.5" stroke-linecap="round"/>
<line x1="1895" y1="621" x2="1936" y2="579" stroke="#777" stroke-width="7" stroke-dasharray="1.3 3"/>
<!-- brick circle -->
<g clip-path="url(#cb)">
 <rect x="1940" y="566" width="90" height="92" fill="#cdcdcd"/>
 <g fill="#d08c55" stroke="#9a6236" stroke-width="0.6">
  <rect x="1930" y="567" width="30" height="14"/><rect x="1964" y="567" width="32" height="14"/><rect x="2000" y="567" width="32" height="14"/>
  <rect x="1945" y="584" width="32" height="14"/><rect x="1981" y="584" width="32" height="14"/><rect x="2017" y="584" width="20" height="14"/>
  <rect x="1930" y="601" width="28" height="14"/><rect x="1962" y="601" width="32" height="14"/><rect x="1998" y="601" width="32" height="14"/>
  <rect x="1940" y="618" width="32" height="14"/><rect x="1976" y="618" width="32" height="14"/><rect x="2012" y="618" width="20" height="14"/>
  <rect x="1930" y="635" width="30" height="14"/><rect x="1964" y="635" width="32" height="14"/><rect x="2000" y="635" width="32" height="14"/>
  <rect x="1945" y="652" width="32" height="14"/><rect x="1981" y="652" width="32" height="14"/>
 </g>
</g>
<circle cx="1985" cy="611" r="43" fill="none" stroke="#777" stroke-width="1"/>
<!-- concrete block -->
<polygon points="2037,606 2095,595 2113,599 2056,611" fill="#d6d6d6" stroke="#666" stroke-width="0.8"/>
<polygon points="2045,606 2070,601 2078,604 2053,609" fill="#9a9a9a"/>
<polygon points="2076,600 2096,596 2104,599 2083,603" fill="#9a9a9a"/>
<polygon points="2056,611 2113,599 2109,638 2059,650" fill="#bdbdbd" stroke="#666" stroke-width="0.8"/>
<polygon points="2037,606 2056,611 2059,650 2041,642" fill="#a9a9a9" stroke="#666" stroke-width="0.8"/>
</svg>
</body></html>
